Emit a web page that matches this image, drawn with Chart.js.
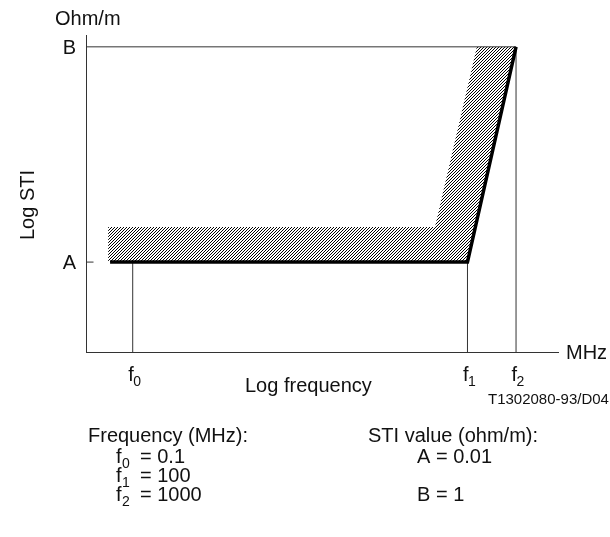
<!DOCTYPE html>
<html>
<head>
<meta charset="utf-8">
<script src="https://cdn.jsdelivr.net/npm/chart.js@4.4.1/dist/chart.umd.min.js"></script>
<style>
  html, body { margin: 0; padding: 0; background: #fff; }
  canvas { display: block; }
</style>
</head>
<body>
<canvas id="c" width="610" height="537"></canvas>
<script>
// frequency marks: schematic positions along the axis (0..100, not a true log scale)
const freqNames = ["0", "1", "2"]
const freqValues = ["0.1", "100", "1000"]
const freqPos = [9.8, 80.8, 91.1]

// STI levels, log10(ohm/m)
const stiNames = ["A", "B"]
const stiValues = ["0.01", "1"]
const stiLog = [-2, 0]

// thick limit line
const limitX = [5.0, 80.8, 91.1]
const limitY = [-2, -2, 0]

// hatched area outline
const hatchX = [4.6, 4.6, 73.9, 82.8, 91.1, 80.8, 5.0, 4.6]
const hatchY = [-2, -1.675, -1.675, 0, 0, -2, -2, -2]

const xMin = 0, xMax = 100
const yMin = -2.84, yMax = 0.11

const FONT = '"Liberation Sans", Arial, sans-serif'
const INK = "#111"

const pts = (xs, ys) => xs.map((x, i) => ({ x, y: ys[i] }))

// crisp 3px diagonal hatch
function hatchPattern() {
  const t = document.createElement("canvas")
  t.width = 3
  t.height = 3
  const c = t.getContext("2d")
  c.fillStyle = "#000"
  c.fillRect(0, 2, 1, 1)
  c.fillRect(1, 1, 1, 1)
  c.fillRect(2, 0, 1, 1)
  return document.getElementById("c").getContext("2d").createPattern(t, "repeat")
}

const thin = (data) => ({
  data,
  showLine: true,
  borderColor: "#333",
  borderWidth: 1,
  pointRadius: 0,
  fill: false,
  order: 1,
})

const datasets = [
  {
    data: pts(limitX, limitY),
    showLine: true,
    borderColor: "#000",
    borderWidth: 3.5,
    pointRadius: 0,
    borderJoinStyle: "miter",
    fill: false,
    order: 0,
  },
  thin([{ x: xMin, y: stiLog[1] }, { x: freqPos[2], y: stiLog[1] }]),
  thin([{ x: freqPos[0], y: yMin }, { x: freqPos[0], y: stiLog[0] }]),
  thin([{ x: freqPos[1], y: yMin }, { x: freqPos[1], y: stiLog[0] }]),
  thin([{ x: freqPos[2], y: yMin }, { x: freqPos[2], y: stiLog[1] }]),
  {
    data: pts(hatchX, hatchY),
    showLine: true,
    borderWidth: 0,
    borderColor: "rgba(0,0,0,0)",
    backgroundColor: hatchPattern(),
    pointRadius: 0,
    fill: "shape",
    order: 2,
  },
]

function withSub(ctx, base, sub, x, y, size) {
  ctx.font = `${size}px ${FONT}`
  ctx.textAlign = "left"
  ctx.fillText(base, x, y)
  const w = ctx.measureText(base).width
  ctx.font = `${Math.round(size * 0.72)}px ${FONT}`
  ctx.fillText(sub, x + w + 0.5, y + 5)
}

const labels = {
  id: "labels",
  afterDraw(chart) {
    const { ctx, chartArea, scales } = chart
    const xs = scales.x, ys = scales.y
    ctx.save()
    ctx.fillStyle = INK
    ctx.textBaseline = "alphabetic"

    // A tick
    ctx.strokeStyle = "#333"
    ctx.lineWidth = 1
    const yA = ys.getPixelForValue(stiLog[0])
    ctx.beginPath()
    ctx.moveTo(chartArea.left, yA)
    ctx.lineTo(chartArea.left + 7, yA)
    ctx.stroke()

    ctx.font = `20px ${FONT}`
    ctx.textAlign = "left"
    ctx.fillText("Ohm/m", 55, 25)
    ctx.textAlign = "right"
    stiNames.forEach((n, i) => {
      const y = ys.getPixelForValue(stiLog[i])
      ctx.fillText(n, 76, y + 7)
    })

    // y title
    ctx.save()
    ctx.translate(34, 205)
    ctx.rotate(-Math.PI / 2)
    ctx.textAlign = "center"
    ctx.fillText("Log STI", 0, 0)
    ctx.restore()

    // x labels
    freqNames.forEach((n, i) => {
      const x = xs.getPixelForValue(freqPos[i])
      ctx.font = `20px ${FONT}`
      ctx.textAlign = "right"
      ctx.fillText("f", x + 1, 381)
      ctx.font = `14px ${FONT}`
      ctx.textAlign = "left"
      ctx.fillText(n, x + 0.5, 386)
    })
    ctx.font = `20px ${FONT}`
    ctx.textAlign = "left"
    ctx.fillText("Log frequency", 245, 392)
    ctx.fillText("MHz", 566, 359)
    ctx.font = `15px ${FONT}`
    ctx.fillText("T1302080-93/D04", 488, 404)

    // legend block
    ctx.font = `20px ${FONT}`
    ctx.fillText("Frequency (MHz):", 88, 442)
    ctx.fillText("STI value (ohm/m):", 368, 442)
    const rows = [463, 482, 501]
    freqNames.forEach((n, i) => {
      withSub(ctx, "f", n, 116, rows[i], 20)
      ctx.font = `20px ${FONT}`
      ctx.fillText("= " + freqValues[i], 140, rows[i])
    })
    ctx.fillText(stiNames[0] + " = " + stiValues[0], 417, rows[0])
    ctx.fillText(stiNames[1] + " = " + stiValues[1], 417, rows[2])
    ctx.restore()
  },
}

new Chart(document.getElementById("c"), {
  type: "scatter",
  data: { datasets },
  plugins: [labels],
  options: {
    responsive: false,
    animation: false,
    events: [],
    layout: { padding: { left: 86.5, right: 52, top: 35, bottom: 184.5 } },
    scales: {
      x: {
        type: "linear",
        min: xMin,
        max: xMax,
        ticks: { display: false },
        grid: { display: false, drawTicks: false },
        border: { color: "#333", width: 1 },
        afterFit: (s) => { s.height = 0 },
      },
      y: {
        type: "linear",
        min: yMin,
        max: yMax,
        ticks: { display: false },
        grid: { display: false, drawTicks: false },
        border: { color: "#333", width: 1 },
        afterFit: (s) => { s.width = 0 },
      },
    },
    plugins: {
      legend: { display: false },
      tooltip: { enabled: false },
    },
  },
})
</script>
</body>
</html>
